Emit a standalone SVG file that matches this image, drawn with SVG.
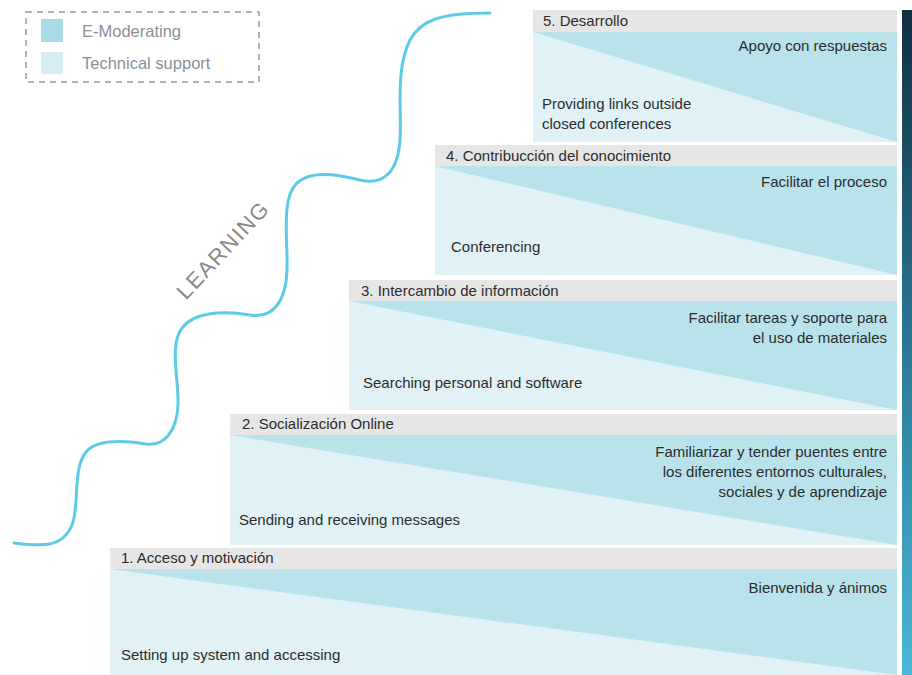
<svg xmlns="http://www.w3.org/2000/svg" width="912" height="675" viewBox="0 0 912 675">
  <defs>
    <linearGradient id="sideBar" x1="0" y1="0" x2="0" y2="1">
      <stop offset="0" stop-color="#122f40"/>
      <stop offset="0.5" stop-color="#2a7896"/>
      <stop offset="1" stop-color="#4cb6d6"/>
    </linearGradient>
  </defs>
  <style>
    .hdr { fill: #e6e6e6; }
    .dark { fill: #b9e2ea; }
    .light { fill: #e0f2f6; }
    .t { font-family: "Liberation Sans", Arial, sans-serif; font-size: 15px; fill: #2d2d2d; }
    .r { text-anchor: end; }
    .leg { font-family: "Liberation Sans", Arial, sans-serif; font-size: 16.5px; fill: #8c9096; }
    .wave { fill: none; stroke: #5ccbe3; stroke-width: 3; stroke-linecap: round; }
  </style>

  <rect width="912" height="675" fill="#ffffff"/>

  <!-- legend -->
  <g id="legend">
    <rect x="26" y="12" width="233" height="70" fill="none" stroke="#9a9a9a" stroke-width="1.5" stroke-dasharray="6 5"/>
    <rect x="41" y="19" width="22" height="23" fill="#a9dbe6"/>
    <rect x="41" y="52" width="22" height="22" fill="#d6eef3"/>
    <text class="leg" x="82" y="37">E-Moderating</text>
    <text class="leg" x="82" y="69">Technical support</text>
  </g>

  <!-- learning path -->
  <g id="connectors">
    <path class="wave" d="M14,543 C40,546 62,549 72,525 C80,505 72,470 86,452 C96,440 120,440 145,444 C165,447 177,430 178,405 C179,380 169,345 182,328 C193,313 220,310 250,315 C274,319 286,300 287,270 C288,240 281,200 296,184 C307,172 330,172 360,180 C385,186 398,170 400,140 C402,110 395,70 410,40 C421,20 440,13 490,13"/>
    <text x="223" y="250" transform="rotate(-47 223 250)" text-anchor="middle" dominant-baseline="central" font-family="Liberation Sans, Arial, sans-serif" font-size="22" letter-spacing="1.5" fill="#8a8a8a">LEARNING</text>
  </g>

  <!-- right-hand bar -->
  <rect x="902" y="10" width="10" height="665" fill="url(#sideBar)"/>

  <!-- step 5 -->
  <g id="step5">
    <rect class="hdr" x="533" y="10" width="364" height="22"/>
    <rect class="dark" x="533" y="32" width="364" height="110"/>
    <polygon class="light" points="533,32 897,142 533,142"/>
    <text class="t" x="543" y="26">5. Desarrollo</text>
    <text class="t r" x="887" y="51">Apoyo con respuestas</text>
    <text class="t" x="542" y="109">Providing links outside</text>
    <text class="t" x="542" y="129">closed conferences</text>
  </g>

  <!-- step 4 -->
  <g id="step4">
    <rect class="hdr" x="435" y="145" width="462" height="21"/>
    <rect class="dark" x="435" y="166" width="462" height="109"/>
    <polygon class="light" points="435,166 897,275 435,275"/>
    <text class="t" x="446" y="161">4. Contribucción del conocimiento</text>
    <text class="t r" x="887" y="187">Facilitar el proceso</text>
    <text class="t" x="451" y="252">Conferencing</text>
  </g>

  <!-- step 3 -->
  <g id="step3">
    <rect class="hdr" x="349" y="280" width="548" height="21"/>
    <rect class="dark" x="349" y="301" width="548" height="109"/>
    <polygon class="light" points="349,301 897,410 349,410"/>
    <text class="t" x="361" y="296">3. Intercambio de información</text>
    <text class="t r" x="887" y="323">Facilitar tareas y soporte para</text>
    <text class="t r" x="887" y="343">el uso de materiales</text>
    <text class="t" x="363" y="388">Searching personal and software</text>
  </g>

  <!-- step 2 -->
  <g id="step2">
    <rect class="hdr" x="230" y="414" width="667" height="21"/>
    <rect class="dark" x="230" y="435" width="667" height="110"/>
    <polygon class="light" points="230,435 897,545 230,545"/>
    <text class="t" x="242" y="429">2. Socialización Online</text>
    <text class="t r" x="887" y="457">Familiarizar y tender puentes entre</text>
    <text class="t r" x="887" y="477">los diferentes entornos culturales,</text>
    <text class="t r" x="887" y="497">sociales y de aprendizaje</text>
    <text class="t" x="239" y="525">Sending and receiving messages</text>
  </g>

  <!-- step 1 -->
  <g id="step1">
    <rect class="hdr" x="110" y="548" width="787" height="21"/>
    <rect class="dark" x="110" y="569" width="787" height="106"/>
    <polygon class="light" points="110,569 897,675 110,675"/>
    <text class="t" x="121" y="563">1. Acceso y motivación</text>
    <text class="t r" x="887" y="593">Bienvenida y ánimos</text>
    <text class="t" x="121" y="660">Setting up system and accessing</text>
  </g>
</svg>
